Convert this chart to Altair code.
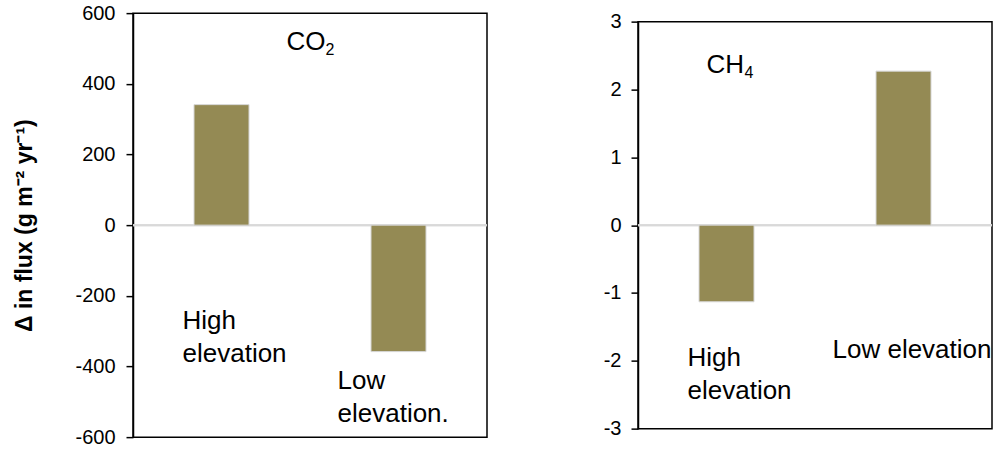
import altair as alt
import pandas as pd

# Change in annual flux at the two sites
categories = ["High elevation", "Low elevation"]
co2_change = [341, -358]
ch4_change = [-1.13, 2.27]
co2_ticks = [-600, -400, -200, 0, 200, 400, 600]
ch4_ticks = [-3, -2, -1, 0, 1, 2, 3]

BAR_COLOR = "#948A54"
FONT = "Liberation Sans"
NOTE_SIZE = 26

x_scale = alt.Scale(domain=categories, paddingInner=0, paddingOuter=0)


def note(text, cat, yval, dx, size=NOTE_SIZE, dy=0):
    """One annotation anchored to a category band and a data value."""
    return alt.Chart(pd.DataFrame({"cat": [cat], "label": [text]})).mark_text(
        align="left", baseline="alphabetic", dx=dx, dy=dy, fontSize=size,
        font=FONT, color="black", lineBreak="\n", lineHeight=33,
    ).encode(
        x=alt.X("cat:N", scale=x_scale, axis=None),
        y=alt.datum(yval),
        text="label:N",
    )


def panel(values, ticks, height, axis_title, label_pad, notes):
    df = pd.DataFrame({"site": categories, "change": values})
    y_scale = alt.Scale(domain=[ticks[0], ticks[-1]], nice=False, zero=False)
    axis_opts = dict(
        values=ticks, grid=False, domainColor="black", domainWidth=1.5,
        tickColor="black", tickSize=7, tickWidth=1.5, labelFont=FONT,
        labelFontSize=20, labelColor="black", labelPadding=label_pad,
        labelExpr="'' + datum.value",
    )
    if axis_title:
        y_axis = alt.Axis(
            title=axis_title, titleFont=FONT, titleFontSize=23,
            titleFontWeight="bold", titleColor="black", titlePadding=38,
            **axis_opts,
        )
    else:
        y_axis = alt.Axis(title=None, **axis_opts)
    zero = alt.Chart(df).mark_rule(color="#d9d9d9", strokeWidth=2).encode(
        y=alt.datum(0, scale=y_scale, axis=y_axis)
    )
    bars = alt.Chart(df).mark_bar(
        size=55, color=BAR_COLOR, stroke="#d6d6d6", strokeWidth=1
    ).encode(
        x=alt.X("site:N", scale=x_scale, axis=None, sort=categories),
        y=alt.Y("change:Q", scale=y_scale, axis=y_axis),
    )
    return alt.layer(zero, bars, *notes).properties(width=354, height=height)


co2_notes = [
    note("CO", "High elevation", 497, 65),
    note("2", "High elevation", 497, 104, size=16, dy=5),
    note("High\nelevation", "High elevation", -293, -39),
    note("Low\nelevation.", "Low elevation", -463, -61),
]
ch4_notes = [
    note("CH", "High elevation", 2.24, -20),
    note("4", "High elevation", 2.24, 18, size=16, dy=5),
    note("High\nelevation", "High elevation", -2.08, -39),
    note("Low elevation", "Low elevation", -1.96, -71),
]

left = panel(co2_change, co2_ticks, 424, "Δ in flux (g m⁻² yr⁻¹)", 11, co2_notes)
right = panel(ch4_change, ch4_ticks, 407, None, 10, ch4_notes)

chart = alt.hconcat(left, right, spacing=113, center=True).properties(
    padding={"left": 13, "top": 2, "right": 0, "bottom": 0},
    background="white",
).configure_view(stroke="black", strokeWidth=1.5)

chart.save("out.html", embed_options={"renderer": "svg", "actions": False})
